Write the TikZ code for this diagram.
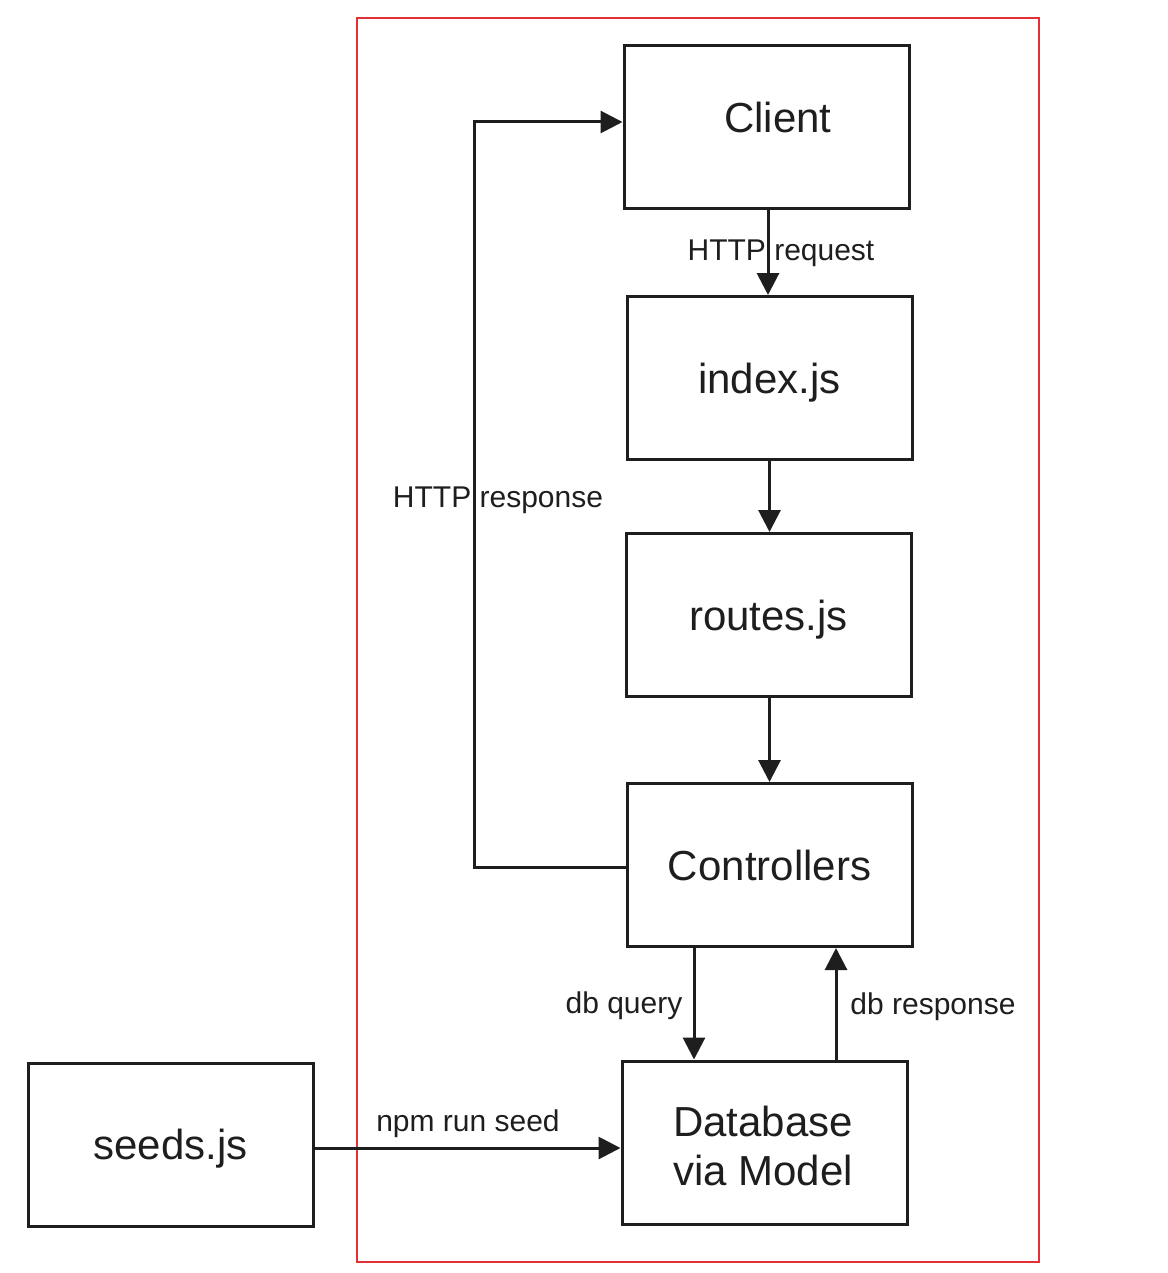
\documentclass[tikz,border=0pt]{standalone}
\usepackage{fontspec}
\setmainfont{Liberation Sans}
\usetikzlibrary{arrows.meta,calc}
\definecolor{ink}{RGB}{30,30,30}
\definecolor{frame}{RGB}{226,48,52}
\begin{document}
\begin{tikzpicture}[x=1pt,y=-1pt,
  box/.style={draw=ink,line width=3pt,minimum width=285pt,minimum height=163pt,inner sep=0pt,
    text=ink,font=\fontsize{42}{49}\selectfont,align=center},
  one/.style={text height=30.5pt,text depth=0pt},
  arr/.style={draw=ink,line width=3pt,-{Triangle[length=22pt,width=22pt]}},
  lbl/.style={text=ink,font=\fontsize{30}{36}\selectfont,inner sep=0pt,text height=21.8pt,text depth=0pt}]
\useasboundingbox (0,0) rectangle (1167,1273);
\draw[frame,line width=2.5pt] (357,18) rectangle (1039,1262);
\node[box] (client) at (766.5,127) {};
\node[text=ink,font=\fontsize{42}{49}\selectfont,inner sep=0pt,one] (clienttext) at (778,117) {Client};
\node[box,one] (index) at (769.5,378) {index.js};
\node[box,one] (routes) at (768.5,615) {routes.js};
\node[box,one] (ctrl) at (769.5,865) {Controllers};
\node[box] (db) at (764.5,1142.5) {};
\node[text=ink,font=\fontsize{42}{49}\selectfont,inner sep=0pt,align=center] (dbtext) at (763,1145.5) {Database\\via Model};
\node[box,one] (seeds) at (170.5,1144.5) {seeds.js};
\draw[arr] ([xshift=1.5pt]client.south) -- ([xshift=1.5pt]client.south |- index.north);
\draw[arr] (index.south) -- (index.south |- routes.north);
\draw[arr] ([xshift=1pt]routes.south) -- ([xshift=1pt]routes.south |- ctrl.north);
\draw[arr] ([xshift=-75.5pt]ctrl.south) -- ([xshift=-75.5pt]ctrl.south |- db.north);
\draw[arr] ([xshift=66.5pt]ctrl.south |- db.north) -- ([xshift=66.5pt]ctrl.south);
\draw[arr] ([yshift=-2pt]ctrl.west) -- ++(-151,0) |- ([yshift=5pt]client.west);
\draw[arr] ([yshift=-3.5pt]seeds.east) -- ([yshift=-3.5pt]seeds.east -| db.west);
\node[lbl] (lreq) at (781,250) {HTTP request};
\node[lbl] (lresp) at (498,497) {HTTP response};
\node[lbl] (lq) at (624,1003) {db query};
\node[lbl] (lr) at (933,1004) {db response};
\node[lbl] (lseed) at (468,1121) {npm run seed};
\end{tikzpicture}
\end{document}
